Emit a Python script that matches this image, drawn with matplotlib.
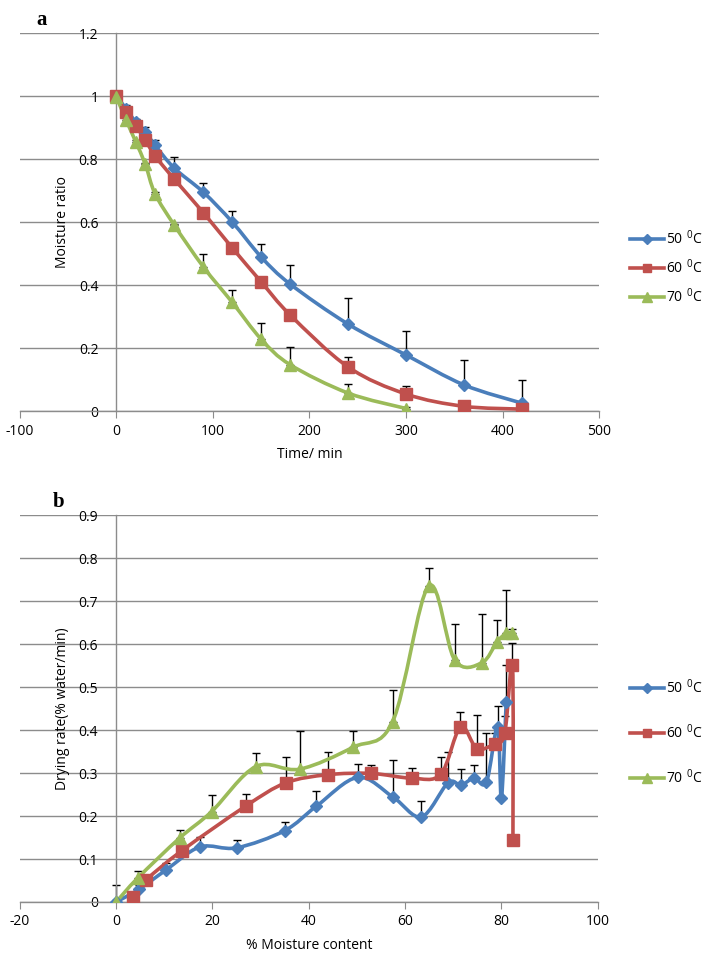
import numpy as np
import matplotlib
matplotlib.use('Agg')
import matplotlib.pyplot as plt
from matplotlib.path import Path
from matplotlib.patches import PathPatch
from matplotlib.lines import Line2D
from matplotlib.ticker import FuncFormatter, MultipleLocator

plt.rcParams['font.family'] = ['Open Sans', 'DejaVu Sans']
plt.rcParams['mathtext.fontset'] = 'custom'
plt.rcParams['mathtext.rm'] = 'Open Sans'

# ---- panel a: moisture ratio vs time ----
time_a = [0, 10, 20, 30, 40, 60, 90, 120, 150, 180, 240, 300, 360, 420]
time_a70 = [0, 10, 20, 30, 40, 60, 90, 120, 150, 180, 240, 300]
mr50 = [1.0, 0.96, 0.917, 0.886, 0.844, 0.771, 0.695, 0.60, 0.489, 0.403, 0.276, 0.178, 0.083, 0.025]
err50 = [0.005, 0.01, 0.01, 0.015, 0.015, 0.035, 0.03, 0.035, 0.04, 0.06, 0.083, 0.076, 0.079, 0.075]
mr60 = [1.0, 0.95, 0.905, 0.86, 0.81, 0.736, 0.63, 0.518, 0.41, 0.305, 0.14, 0.054, 0.015, 0.006]
err60 = [0.005, 0.01, 0.01, 0.01, 0.01, 0.01, 0.01, 0.01, 0.01, 0.005, 0.031, 0.025, 0.004, 0.003]
mr70 = [0.997, 0.924, 0.855, 0.783, 0.69, 0.59, 0.458, 0.345, 0.228, 0.147, 0.057, 0.008]
err70 = [0.0, 0.005, 0.005, 0.005, 0.005, 0.005, 0.04, 0.04, 0.05, 0.055, 0.029, 0.004]

# ---- panel b: drying rate vs moisture content ----
mc50 = [0, 4.8, 10.3, 17.4, 25, 35, 41.6, 50.2, 57.5, 63.4, 68.9, 71.6, 74.3, 76.9, 79.2, 80.0, 81.0]
dr50 = [0, 0.03, 0.074, 0.128, 0.126, 0.166, 0.223, 0.29, 0.244, 0.198, 0.277, 0.272, 0.288, 0.279, 0.407, 0.242, 0.465]
derr50 = [0.005, 0.01, 0.016, 0.024, 0.019, 0.02, 0.035, 0.03, 0.086, 0.037, 0.073, 0.038, 0.03, 0.114, 0.049, 0.0, 0.086]
mc60 = [3.4, 6.3, 13.6, 26.9, 35.2, 43.9, 53, 61.4, 67.4, 71.5, 74.9, 78.6, 80.7, 82.3, 82.4]
dr60 = [0.012, 0.052, 0.119, 0.223, 0.277, 0.296, 0.299, 0.288, 0.297, 0.407, 0.357, 0.368, 0.393, 0.551, 0.144]
derr60 = [0.005, 0.01, 0.011, 0.028, 0.06, 0.052, 0.019, 0.023, 0.04, 0.035, 0.078, 0.025, 0.04, 0.051, 0.0]
mc70 = [0, 4.5, 13.2, 19.8, 29, 38.1, 49.2, 57.4, 64.9, 70.3, 75.9, 79.1, 81.0, 82.3]
dr70 = [0, 0.056, 0.149, 0.21, 0.315, 0.309, 0.36, 0.419, 0.735, 0.563, 0.556, 0.605, 0.625, 0.626]
derr70 = [0.04, 0.015, 0.018, 0.039, 0.031, 0.089, 0.038, 0.074, 0.041, 0.083, 0.114, 0.052, 0.1, 0.01]

labels = ['50$\\ ^{0}$C', '60$\\ ^{0}$C', '70$\\ ^{0}$C']
colors = ['#4A7EBB', '#C0504D', '#9BBB59']
markers = ['D', 's', '^']
msizes = [6.5, 8, 8.5]


def smooth_path(x, y):
    # excel-like smoothed line: bezier through the points
    p = np.column_stack([x, y]).astype(float)
    n = len(p)
    verts = [p[0]]
    codes = [Path.MOVETO]
    for i in range(n - 1):
        p0 = p[i - 1] if i > 0 else p[i]
        p3 = p[i + 2] if i + 2 < n else p[i + 1]
        c1 = p[i] + (p[i + 1] - p0) / 6.0
        c2 = p[i + 1] - (p3 - p[i]) / 6.0
        verts += [c1, c2, p[i + 1]]
        codes += [Path.CURVE4] * 3
    return Path(verts, codes)


def draw_series(ax, x, y, err, color, marker, ms):
    ax.errorbar(x, y, yerr=[np.zeros(len(err)), err], fmt='none', ecolor='black',
                elinewidth=1, capsize=3, capthick=1, zorder=2)
    ax.add_patch(PathPatch(smooth_path(x, y), facecolor='none', edgecolor=color,
                           lw=2.6, zorder=3, capstyle='round', joinstyle='round'))
    ax.plot(x, y, linestyle='none', marker=marker, ms=ms, color=color, zorder=4)


def style_axes(ax, xlim, ylim, ystep, xlabel, ylabel):
    ax.set_xlim(*xlim)
    ax.set_ylim(*ylim)
    ax.yaxis.set_major_locator(MultipleLocator(ystep))
    ax.xaxis.set_major_locator(MultipleLocator((xlim[1] - xlim[0]) / 6))
    fmt = FuncFormatter(lambda v, pos: f'{round(v, 2):g}')
    ax.yaxis.set_major_formatter(fmt)
    ax.xaxis.set_major_formatter(fmt)
    ax.grid(axis='y', color='#8c8c8c', lw=1)
    ax.set_axisbelow(True)
    ax.spines['left'].set_position(('data', 0))
    ax.spines['top'].set_visible(False)
    ax.spines['right'].set_visible(False)
    for s in ['left', 'bottom']:
        ax.spines[s].set_color('#8c8c8c')
        ax.spines[s].set_linewidth(1)
    ax.tick_params(axis='x', direction='out', length=5, color='#8c8c8c', labelsize=10, pad=4)
    ax.tick_params(axis='y', length=0, labelsize=10, pad=13)
    ax.set_xlabel(xlabel, fontsize=10, labelpad=6)
    ax.set_ylabel(ylabel, fontsize=10, labelpad=6)


fig = plt.figure(figsize=(7.09, 9.55), dpi=100)

ax1 = fig.add_axes([0.028, 0.5696, 0.817, 0.3958])
draw_series(ax1, time_a, mr50, err50, colors[0], markers[0], msizes[0])
draw_series(ax1, time_a, mr60, err60, colors[1], markers[1], msizes[1])
draw_series(ax1, time_a70, mr70, err70, colors[2], markers[2], msizes[2])
style_axes(ax1, (-100, 500), (0, 1.2), 0.2, 'Time/ min', 'Moisture ratio')

ax2 = fig.add_axes([0.028, 0.0555, 0.815, 0.4052])
draw_series(ax2, mc50, dr50, derr50, colors[0], markers[0], msizes[0])
draw_series(ax2, mc60, dr60, derr60, colors[1], markers[1], msizes[1])
draw_series(ax2, mc70, dr70, derr70, colors[2], markers[2], msizes[2])
style_axes(ax2, (-20, 100), (0, 0.9), 0.1, '% Moisture content', 'Drying rate(% water/min)')

handles = [Line2D([], [], color=c, marker=m, ms=s * 0.8, lw=2.6)
           for c, m, s in zip(colors, markers, msizes)]
leg_kw = dict(loc='center left', frameon=False, fontsize=10, handlelength=2.4,
              handletextpad=0.2, borderpad=0.2, borderaxespad=0)
fig.legend(handles, labels, bbox_to_anchor=(0.885, 1 - 268 / 955), labelspacing=0.75, **leg_kw)
fig.legend(handles, labels, bbox_to_anchor=(0.885, 1 - 733 / 955), labelspacing=1.9, **leg_kw)

fig.text(0.052, 1 - 20 / 955, 'a', family='Liberation Serif', weight='bold', fontsize=15, va='center')
fig.text(0.075, 1 - 502 / 955, 'b', family='Liberation Serif', weight='bold', fontsize=15, va='center')

fig.savefig('out.png', dpi=100)
